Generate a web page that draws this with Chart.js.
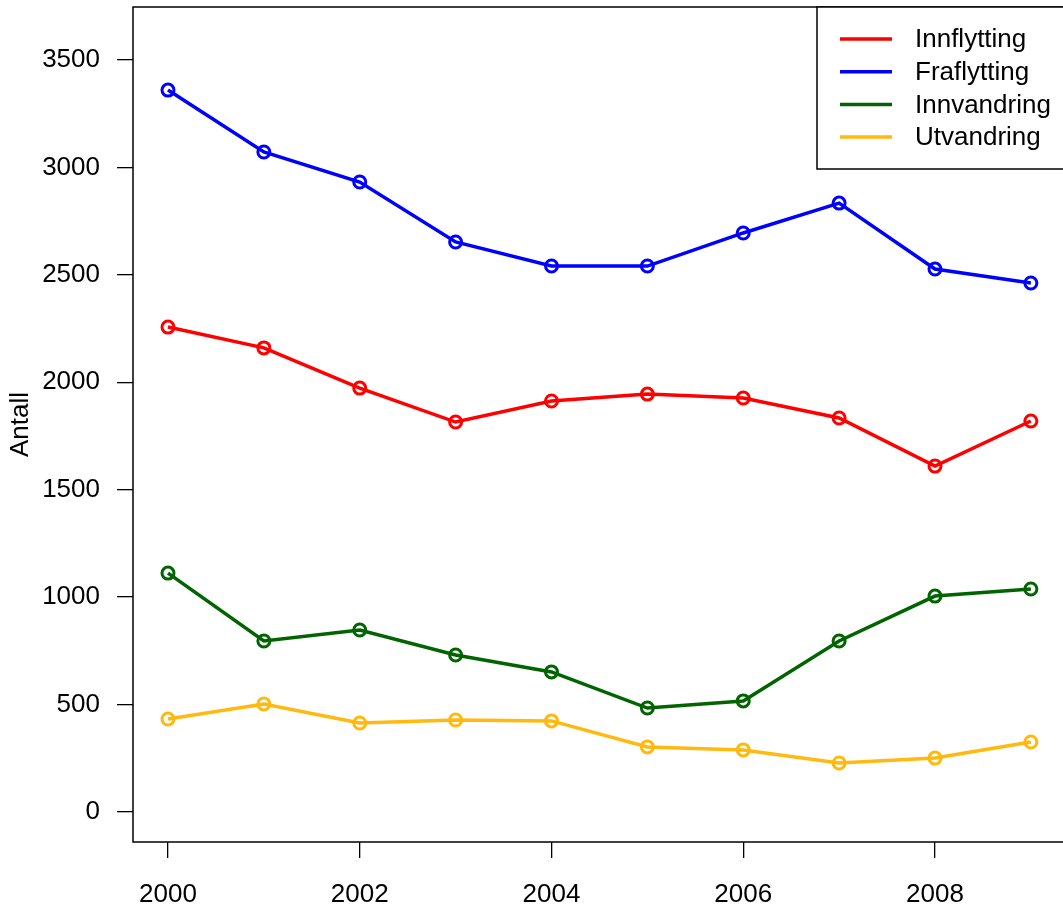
<!DOCTYPE html>
<html>
<head>
<meta charset="utf-8">
<script src="https://cdn.jsdelivr.net/npm/chart.js@4/dist/chart.umd.min.js"></script>
<style>
  html, body { margin: 0; padding: 0; background: #fff; overflow: hidden; }
  #wrap { width: 1065px; height: 910px; }
</style>
</head>
<body>
<div id="wrap"><canvas id="chart" width="1065" height="910"></canvas></div>
<script>
const years = [2000, 2001, 2002, 2003, 2004, 2005, 2006, 2007, 2008, 2009];
const innflytting = [2257, 2160, 1973, 1815, 1913, 1945, 1927, 1834, 1610, 1820];
const fraflytting = [3360, 3072, 2932, 2653, 2541, 2541, 2695, 2834, 2527, 2462];
const innvandring = [1112, 796, 847, 731, 652, 484, 517, 796, 1005, 1038];
const utvandring = [433, 503, 414, 428, 424, 303, 289, 228, 251, 326];
const xTicks = [2000, 2002, 2004, 2006, 2008];
const yTicks = [0, 500, 1000, 1500, 2000, 2500, 3000, 3500];

const font = "'Liberation Sans', Arial, sans-serif";

const series = [
  { label: "Innflytting", data: innflytting, color: "#FF0000" },
  { label: "Fraflytting", data: fraflytting, color: "#0000FF" },
  { label: "Innvandring", data: innvandring, color: "#006400" },
  { label: "Utvandring", data: utvandring, color: "#FFB90F" }
];

// box around plot + R-style legend in the top right corner
const boxLegend = {
  id: "boxLegend",
  afterDraw(chart) {
    const ctx = chart.ctx;
    const a = chart.chartArea;
    ctx.save();
    ctx.strokeStyle = "#000";
    ctx.lineWidth = 1.5;
    ctx.strokeRect(a.left, a.top, a.right - a.left, a.bottom - a.top);

    const lx = a.right - 248;
    ctx.fillStyle = "#fff";
    ctx.fillRect(lx, a.top, a.right - lx, 162);
    ctx.strokeRect(lx, a.top, a.right - lx + 5, 162);
    ctx.font = "26px " + font;
    ctx.textBaseline = "middle";
    chart.data.datasets.forEach((ds, i) => {
      const y = a.top + 32 + i * 32.7;
      ctx.strokeStyle = ds.borderColor;
      ctx.lineWidth = 3.5;
      ctx.beginPath();
      ctx.moveTo(lx + 23, y);
      ctx.lineTo(lx + 75, y);
      ctx.stroke();
      ctx.fillStyle = "#000";
      ctx.fillText(ds.label, lx + 98, y + 1);
    });
    ctx.restore();
  }
};

const noPad = s => { s.paddingTop = 0; s.paddingBottom = 0; s.paddingLeft = 0; s.paddingRight = 0; };

new Chart(document.getElementById("chart"), {
  type: "line",
  data: {
    datasets: series.map(s => ({
      label: s.label,
      data: years.map((yr, i) => ({ x: yr, y: s.data[i] })),
      borderColor: s.color,
      backgroundColor: s.color,
      borderWidth: 3.5,
      tension: 0,
      pointRadius: 6,
      pointBorderWidth: 3,
      pointBackgroundColor: "rgba(0,0,0,0)",
      pointBorderColor: s.color
    }))
  },
  options: {
    responsive: false,
    animation: false,
    layout: { autoPadding: false, padding: { top: 7, right: 0, left: 0, bottom: 0 } },
    plugins: { legend: { display: false }, tooltip: { enabled: false } },
    scales: {
      x: {
        type: "linear",
        min: 1999.635,
        max: 2009.356,
        afterBuildTicks: s => { s.ticks = xTicks.map(v => ({ value: v })); },
        afterFit: s => { s.height = 68; noPad(s); },
        grid: { drawOnChartArea: false, drawTicks: true, tickLength: 16, color: "#000", lineWidth: 1.3 },
        border: { display: false },
        ticks: { color: "#000", font: { size: 26, family: font }, padding: 21, maxRotation: 0, callback: v => String(v) }
      },
      y: {
        min: -139.6,
        max: 3746.7,
        afterBuildTicks: s => { s.ticks = yTicks.map(v => ({ value: v })); },
        afterFit: s => { s.width = 133; noPad(s); },
        grid: { drawOnChartArea: false, drawTicks: true, tickLength: 16, color: "#000", lineWidth: 1.3 },
        border: { display: false },
        ticks: { color: "#000", font: { size: 26, family: font }, padding: 17, callback: v => String(v) },
        title: { display: true, text: "Antall", color: "#000", font: { size: 26, family: font }, padding: { top: 5, bottom: 0 } }
      }
    }
  },
  plugins: [boxLegend]
});
</script>
</body>
</html>
